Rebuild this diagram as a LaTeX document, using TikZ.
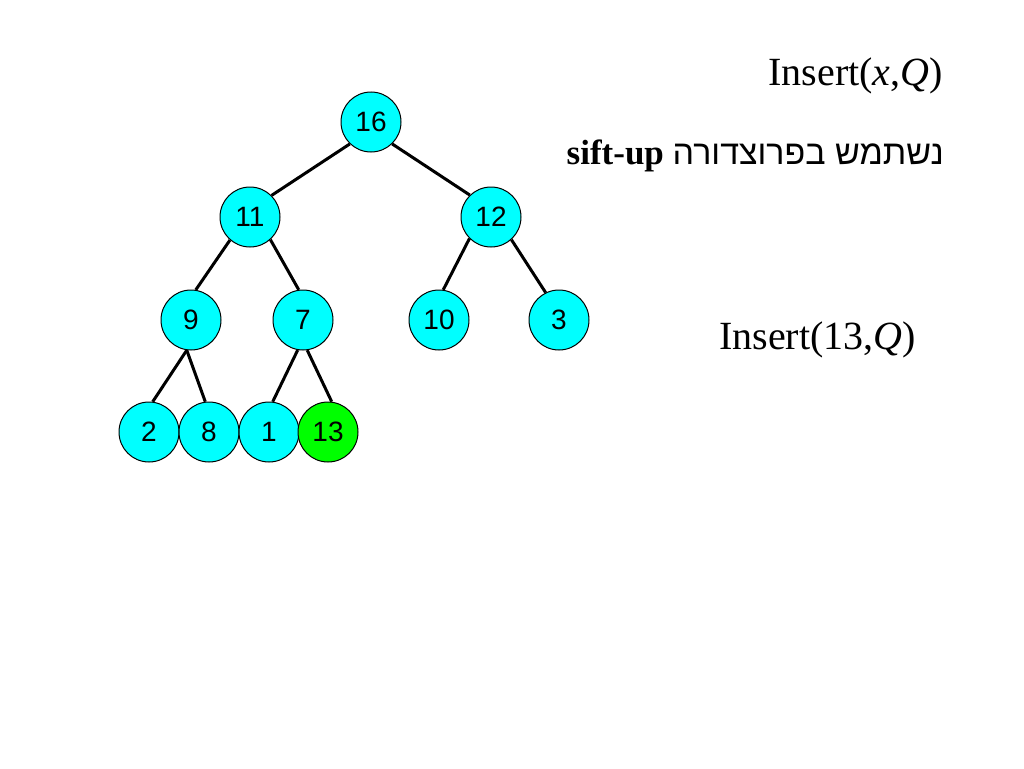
\documentclass[tikz,border=0pt]{standalone}
\usepackage{fontspec}
\setmainfont{Liberation Serif}
\newfontfamily\hebfont[Script=Hebrew]{Liberation Sans}
\newfontfamily\numfont{Liberation Sans}
\TeXXeTstate=1
\definecolor{heapcyan}{RGB}{0,255,255}
\definecolor{heapgreen}{RGB}{0,255,0}
\tikzset{
  heapnode/.style={circle, draw=black, line width=1pt, fill=heapcyan, minimum size=60pt, inner sep=0pt, font=\numfont\fontsize{28}{30}\selectfont},
  newnode/.style={heapnode, fill=heapgreen},
  edge/.style={line width=3pt, black},
}
\begin{document}
\begin{tikzpicture}[x=1pt,y=-1pt]
\useasboundingbox (0,0) rectangle (1024,768);
\fill[white] (0,0) rectangle (1024,768);
\node[heapnode] (n16) at (371,122) {16};
\node[heapnode] (n11) at (250,217) {11};
\node[heapnode] (n12) at (491,217) {12};
\node[heapnode] (n9) at (191,320) {9};
\node[heapnode] (n7) at (303,320) {7};
\node[heapnode] (n10) at (439,320) {10};
\node[heapnode] (n3) at (559,320) {3};
\node[heapnode] (n2) at (149,432) {2};
\node[heapnode] (n8) at (209,432) {8};
\node[heapnode] (n1) at (269,432) {1};
\node[newnode] (n13) at (328,432) {13};
\draw[edge] (n16.226) -- (n11.45);
\draw[edge] (n16.314) -- (n12.134);
\draw[edge] (n11.229) -- (n9.81);
\draw[edge] (n11.312) -- (n7.98);
\draw[edge] (n12.225) -- (n10.82);
\draw[edge] (n12.312) -- (n3.116);
\draw[edge] (n9.262) -- (n2.83);
\draw[edge] (n9.262) -- (n8.97);
\draw[edge] (n7.260) -- (n1.83);
\draw[edge] (n7.278) -- (n13.83);
\node[anchor=base east, inner sep=0pt, font=\fontsize{40}{44}\selectfont] (t1) at (943,85) {Insert(\textit{x},\textit{Q})};
\node[anchor=base east, inner sep=0pt, font=\fontsize{35}{40}\selectfont] (t2) at (944,164) {\beginR{\hebfont\fontsize{34}{40}\selectfont נשתמש בפרוצדורה} \beginL\textbf{sift-up}\endL\endR};
\node[anchor=base west, inner sep=0pt, font=\fontsize{40}{44}\selectfont] (t3) at (719,349) {Insert(13,\textit{Q})};
\end{tikzpicture}
\end{document}
